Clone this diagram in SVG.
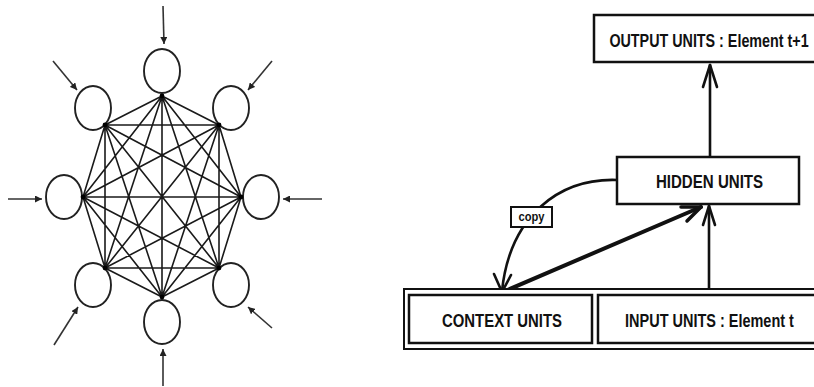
<svg xmlns="http://www.w3.org/2000/svg" width="814" height="387" viewBox="0 0 814 387">
  <style>
    .unit { fill: #fff; stroke: #222; stroke-width: 1.9; }
    .link { stroke: #1a1a1a; stroke-width: 1.6; fill: none; }
    .hub { fill: #000; }
    .inp { stroke: #333; stroke-width: 1.6; fill: none; marker-end: url(#tri); }
    .box { fill: #fff; stroke: #111; stroke-width: 2.5; }
    .wire { stroke: #111; stroke-width: 2.6; fill: none; stroke-linecap: round; stroke-linejoin: round; }
    .lbl { font-family: "Liberation Sans", Arial, sans-serif; font-size: 18px; font-weight: bold; fill: #111; text-anchor: middle; }
    .small { font-family: "Liberation Sans", Arial, sans-serif; font-size: 12px; font-weight: bold; fill: #111; text-anchor: middle; }
  </style>
  <defs>
    <marker id="tri" viewBox="0 0 10 10" refX="10" refY="5" markerWidth="7" markerHeight="7" markerUnits="userSpaceOnUse" orient="auto">
      <path d="M0,0 L10,5 L0,10 z" fill="#222"/>
    </marker>
  </defs>
  <rect width="814" height="387" fill="#fff"/>

  <!-- fully connected recurrent network -->
  <g id="connections">
    <!-- P0 top (162,96) P1 (219,125) P2 (241,197) P3 (219,268) P4 (162,297) P5 (105,268) P6 (83,197) P7 (105,125) -->
    <path class="link" d="
      M162,96 L219,125 M162,96 L241,197 M162,96 L219,268 M162,96 L162,297 M162,96 L105,268 M162,96 L83,197 M162,96 L105,125
      M219,125 L241,197 M219,125 L219,268 M219,125 L162,297 M219,125 L105,268 M219,125 L83,197 M219,125 L105,125
      M241,197 L219,268 M241,197 L162,297 M241,197 L105,268 M241,197 L83,197 M241,197 L105,125
      M219,268 L162,297 M219,268 L105,268 M219,268 L83,197 M219,268 L105,125
      M162,297 L105,268 M162,297 L83,197 M162,297 L105,125
      M105,268 L83,197 M105,268 L105,125
      M83,197 L105,125"/>
    <line class="inp" x1="163" y1="6" x2="164" y2="44"/>
    <line class="inp" x1="53" y1="61" x2="77" y2="90"/>
    <line class="inp" x1="272" y1="61" x2="248" y2="90"/>
    <line class="inp" x1="8" y1="199" x2="42" y2="199"/>
    <line class="inp" x1="322" y1="199" x2="283" y2="199"/>
    <line class="inp" x1="54" y1="345" x2="78" y2="307"/>
    <line class="inp" x1="272" y1="328" x2="248" y2="307"/>
    <line class="inp" x1="163" y1="386" x2="163" y2="349"/>
  </g>

  <g id="n-top"><ellipse class="unit" cx="162" cy="71" rx="18" ry="22"/><circle class="hub" cx="162" cy="96" r="2.4"/></g>
  <g id="n-top-right"><ellipse class="unit" cx="231" cy="108" rx="18" ry="22"/><circle class="hub" cx="219" cy="125" r="2.4"/></g>
  <g id="n-right"><ellipse class="unit" cx="261" cy="197" rx="18" ry="22"/><circle class="hub" cx="241" cy="197" r="2.4"/></g>
  <g id="n-bottom-right"><ellipse class="unit" cx="231" cy="285" rx="18" ry="22"/><circle class="hub" cx="219" cy="268" r="2.4"/></g>
  <g id="n-bottom"><ellipse class="unit" cx="162" cy="322" rx="18" ry="22"/><circle class="hub" cx="162" cy="297" r="2.4"/></g>
  <g id="n-bottom-left"><ellipse class="unit" cx="93" cy="285" rx="18" ry="22"/><circle class="hub" cx="105" cy="268" r="2.4"/></g>
  <g id="n-left"><ellipse class="unit" cx="64" cy="197" rx="18" ry="22"/><circle class="hub" cx="83" cy="197" r="2.4"/></g>
  <g id="n-top-left"><ellipse class="unit" cx="93" cy="108" rx="18" ry="22"/><circle class="hub" cx="105" cy="125" r="2.4"/></g>

  <!-- simple recurrent network -->
  <g id="srn-connectors">
    <!-- hidden -> output -->
    <path class="wire" d="M710,157 L710,65"/>
    <path class="wire" d="M703,87 L710,65 L717,87"/>
    <!-- input -> hidden -->
    <path class="wire" d="M709,289 L709,206"/>
    <path class="wire" d="M703,225 L709,206 L715,225"/>
    <!-- context -> hidden -->
    <path class="wire" style="stroke-width:4" d="M505,291 L701,207"/>
    <path class="wire" style="stroke-width:3.5" d="M681,207 L701,207 L687,221"/>
    <!-- hidden copied back to context -->
    <path class="wire" d="M617,180 C560,178 510,215 502,291"/>
    <path class="wire" d="M494,274 L502,292 L511,275"/>
  </g>

  <!-- labels use a horizontally condensed face -->
  <g id="output-units">
    <rect class="box" x="594" y="15" width="232" height="47"/>
    <g transform="translate(709 47) scale(0.8 1)"><text class="lbl" x="0" y="0" textLength="249" lengthAdjust="spacingAndGlyphs">OUTPUT UNITS : Element t+1</text></g>
  </g>
  <g id="hidden-units">
    <rect class="box" x="617" y="157" width="182" height="47"/>
    <g transform="translate(709.5 188) scale(0.8 1)"><text class="lbl" x="0" y="0" textLength="134" lengthAdjust="spacingAndGlyphs">HIDDEN UNITS</text></g>
  </g>
  <g id="copy-label">
    <rect class="box" style="stroke-width:2" x="511" y="207" width="41" height="20"/>
    <text class="small" x="531.5" y="221" textLength="26" lengthAdjust="spacingAndGlyphs">copy</text>
  </g>
  <g id="input-layer">
    <rect class="box" style="stroke-width:2" x="404" y="289" width="420" height="60"/>
  </g>
  <g id="context-units">
    <rect class="box" x="409" y="295" width="183" height="48"/>
    <g transform="translate(502 327) scale(0.8 1)"><text class="lbl" x="0" y="0" textLength="150" lengthAdjust="spacingAndGlyphs">CONTEXT UNITS</text></g>
  </g>
  <g id="input-units">
    <rect class="box" x="598" y="295" width="230" height="48"/>
    <g transform="translate(709.5 327) scale(0.8 1)"><text class="lbl" x="0" y="0" textLength="211" lengthAdjust="spacingAndGlyphs">INPUT UNITS : Element t</text></g>
  </g>
</svg>
